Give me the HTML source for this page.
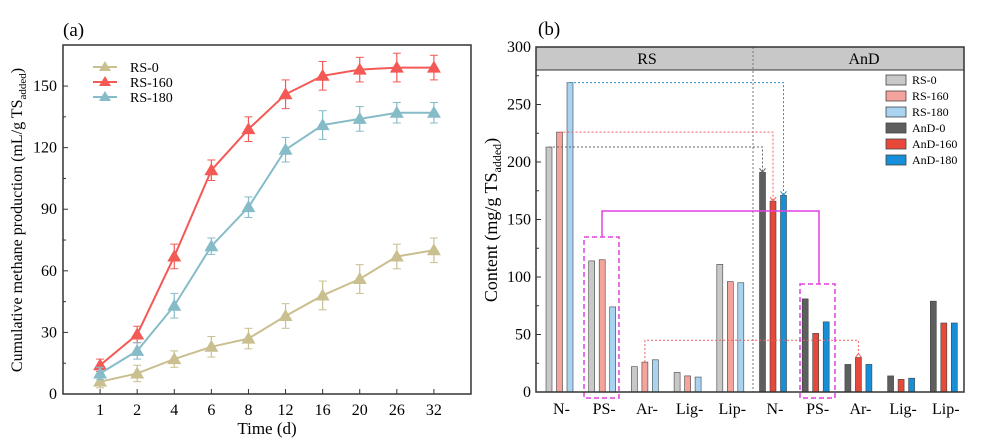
<!DOCTYPE html>
<html><head><meta charset="utf-8"><style>
body{margin:0;background:#fff}
svg{display:block;font-family:"Liberation Serif",serif}
</style></head><body>
<svg id="s" width="998" height="448" viewBox="0 0 998 448">
<g id="pa"></g>
<g id="pb"></g>
</svg>
<script>
// Panel (a) data
const daysA = ["1","2","4","6","8","12","16","20","26","32"];
const seriesNames = ["RS-0","RS-160","RS-180"];
const rs0 = [6,10,17,23,27,38,48,56,67,70];
const rs0Err = [3,4,4,5,5,6,7,7,6,6];
const rs160 = [14,29,67,109,129,146,155,158,159,159];
const rs160Err = [3,4,6,5,6,7,7,6,7,6];
const rs180 = [10,21,43,72,91,119,131,134,137,137];
const rs180Err = [3,4,6,4,5,6,7,6,5,5];
const yTicksA = [0,30,60,90,120,150];
// Panel (b) data
const groupsB = ["N-","PS-","Ar-","Lig-","Lip-","N-","PS-","Ar-","Lig-","Lip-"];
const legendB = ["RS-0","RS-160","RS-180","AnD-0","AnD-160","AnD-180"];
const bar0 = [213,114,22,17,111,191,81,24,14,79];
const bar160 = [226,115,26,14,96,166,51,30,11,60];
const bar180 = [269,74,28,13,95,171,61,24,12,60];
const yTicksB = [0,50,100,150,200,250,300];

const NS="http://www.w3.org/2000/svg";
function mk(p,tag,at,txt){const e=document.createElementNS(NS,tag);for(const k in at)e.setAttribute(k,at[k]);if(txt!=null)e.textContent=txt;p.appendChild(e);return e;}

// ---------- Panel A ----------
const A=document.getElementById('pa');
const ax={l:63,r:471,t:45,b:394};
const xA=i=>ax.l+(i+1)*(ax.r-ax.l)/11;
const yA=v=>ax.b-v*(ax.b-ax.t)/170;
let t=mk(A,'text',{x:63,y:36,'font-size':19});t.textContent='(a)';

yTicksA.forEach(v=>{mk(A,'line',{x1:ax.l,x2:ax.l+5,y1:yA(v),y2:yA(v),stroke:'#333'});
 if(v<150)mk(A,'line',{x1:ax.l,x2:ax.l+3,y1:yA(v+15),y2:yA(v+15),stroke:'#333'});
 const e=mk(A,'text',{x:ax.l-6,y:yA(v)+5,'text-anchor':'end','font-size':16},v);
 });
daysA.forEach((d,i)=>{mk(A,'line',{x1:xA(i),x2:xA(i),y1:ax.b,y2:ax.b-5,stroke:'#333'});
 const e=mk(A,'text',{x:xA(i),y:ax.b+21,'text-anchor':'middle','font-size':16},d);
 });
const colsA=['#c9bf8f','#f45a55','#86bcc8'];
[[rs0,rs0Err],[rs160,rs160Err],[rs180,rs180Err]].forEach(([vals,err],si)=>{
 const g=mk(A,'g',{});
 mk(g,'polyline',{points:vals.map((v,i)=>xA(i)+','+yA(v)).join(' '),fill:'none',stroke:colsA[si],'stroke-width':2});
 vals.forEach((v,i)=>{const x=xA(i);
  mk(g,'line',{x1:x,x2:x,y1:yA(v-err[i]),y2:yA(v+err[i]),stroke:colsA[si],'stroke-width':1.2});
  mk(g,'line',{x1:x-4,x2:x+4,y1:yA(v-err[i]),y2:yA(v-err[i]),stroke:colsA[si]});
  mk(g,'line',{x1:x-4,x2:x+4,y1:yA(v+err[i]),y2:yA(v+err[i]),stroke:colsA[si]});
  const p=mk(g,'polygon',{points:`${x},${yA(v)-7} ${x-7},${yA(v)+5} ${x+7},${yA(v)+5}`,fill:colsA[si]});
  });
 const ly=67+si*15;
 mk(g,'line',{x1:93,x2:117,y1:ly,y2:ly,stroke:colsA[si],'stroke-width':2});
 mk(g,'polygon',{points:`105,${ly-6} 99,${ly+4} 111,${ly+4}`,fill:colsA[si]});
 const e=mk(g,'text',{x:130,y:ly+5,'font-size':14},seriesNames[si]);
 
});
let fr=mk(A,'rect',{x:ax.l,y:ax.t,width:ax.r-ax.l,height:ax.b-ax.t,fill:'none',stroke:'#333','stroke-width':1.5});

t=mk(A,'text',{transform:'translate(22,220) rotate(-90)','text-anchor':'middle','font-size':16});
t.innerHTML='Cumulative methane production (mL/g TS<tspan font-size="11" dy="4">added</tspan><tspan dy="-4">)</tspan>';

t=mk(A,'text',{x:267,y:434,'text-anchor':'middle','font-size':17},'Time (d)');


// ---------- Panel B ----------
const B=document.getElementById('pb');
const bx={l:536,r:964,t:47,b:392};
const yB=v=>bx.b-v*(bx.b-bx.t)/300;
const xB=i=>559.5+i*42.7;
t=mk(B,'text',{x:538,y:35,'font-size':19},'(b)');

let hd=mk(B,'rect',{x:bx.l,y:bx.t,width:bx.r-bx.l,height:23,fill:'#c8c8c8',stroke:'#333'});

mk(B,'line',{x1:753,x2:753,y1:bx.t,y2:bx.b,stroke:'#777','stroke-dasharray':'2,2'});
t=mk(B,'text',{x:647,y:64,'text-anchor':'middle','font-size':16},'RS');
t=mk(B,'text',{x:864,y:64,'text-anchor':'middle','font-size':16},'AnD');
yTicksB.forEach(v=>{mk(B,'line',{x1:bx.l,x2:bx.l+5,y1:yB(v),y2:yB(v),stroke:'#333'});
 if(v<300)mk(B,'line',{x1:bx.l,x2:bx.l+3,y1:yB(v+25),y2:yB(v+25),stroke:'#333'});
 const e=mk(B,'text',{x:bx.l-5,y:yB(v)+5,'text-anchor':'end','font-size':16},v);
 });
const fillB=[['#c8c8c8','#f4a49c','#a8d4f2'],['#5e5e5e','#e8483a','#168ed8']];
groupsB.forEach((g,i)=>{
 const side=i<5?0:1;
 [bar0,bar160,bar180].forEach((arr,k)=>{const x=xB(i)+(k-1)*10.5;
  const r=mk(B,'rect',{x:x-3,y:yB(arr[i]),width:6,height:bx.b-yB(arr[i]),fill:fillB[side][k],stroke:'#444','stroke-width':0.6});
  
  });
 const e=mk(B,'text',{x:xB(i)+2,y:bx.b+22,'text-anchor':'middle','font-size':16},g);
 
});
// annotations
function dotted(pts,col){mk(B,'polyline',{points:pts,fill:'none',stroke:col,'stroke-width':1,'stroke-dasharray':'2,2'});}
function arrowDown(x,y,col){mk(B,'polyline',{points:`${x-3},${y-4} ${x},${y} ${x+3},${y-4}`,fill:'none',stroke:col});}
const n=5;
dotted(`${xB(0)+10.5},${yB(bar180[0])} ${xB(n)+10.5},${yB(bar180[0])} ${xB(n)+10.5},${yB(bar180[n])}`,'#2a8fd0');arrowDown(xB(n)+10.5,yB(bar180[n]),'#2a8fd0');
dotted(`${xB(0)},${yB(bar160[0])} ${xB(n)},${yB(bar160[0])} ${xB(n)},${yB(bar160[n])}`,'#f06060');arrowDown(xB(n),yB(bar160[n]),'#f06060');
dotted(`${xB(0)-10.5},${yB(bar0[0])} ${xB(n)-10.5},${yB(bar0[0])} ${xB(n)-10.5},${yB(bar0[n])}`,'#666');arrowDown(xB(n)-10.5,yB(bar0[n]),'#666');
dotted(`${xB(2)},${yB(bar160[2])} ${xB(2)},${yB(45)} ${xB(7)},${yB(45)} ${xB(7)},${yB(bar160[7])-3}`,'#f06060');
mk(B,'polyline',{points:`${xB(7)-3},${yB(bar160[7])} ${xB(7)},${yB(bar160[7])-4} ${xB(7)+3},${yB(bar160[7])}`,fill:'none',stroke:'#f06060'});
let bx1=mk(B,'rect',{x:584,y:237,width:35,height:161,fill:'none',stroke:'#e040e0','stroke-width':1.5,'stroke-dasharray':'5,3'});

let bx2=mk(B,'rect',{x:800,y:284,width:35,height:114,fill:'none',stroke:'#e040e0','stroke-width':1.5,'stroke-dasharray':'5,3'});

mk(B,'polyline',{points:'602,237 602,211 819,211 819,284',fill:'none',stroke:'#e040e0','stroke-width':1.5});
// legend
legendB.forEach((nm,j)=>{const y=80+j*16;const s=j<3?0:1;
 mk(B,'rect',{x:886,y:y-5,width:20,height:10,fill:fillB[s][j%3],stroke:'#444','stroke-width':0.8});
 const e=mk(B,'text',{x:912,y:y+4,'font-size':12},nm);
 });
fr=mk(B,'rect',{x:bx.l,y:bx.t,width:bx.r-bx.l,height:bx.b-bx.t,fill:'none',stroke:'#333','stroke-width':1.5});

t=mk(B,'text',{transform:'translate(497,220) rotate(-90)','text-anchor':'middle','font-size':18});
t.innerHTML='Content (mg/g TS<tspan font-size="12" dy="4">added</tspan><tspan dy="-4">)</tspan>';

</script>
</body></html>
